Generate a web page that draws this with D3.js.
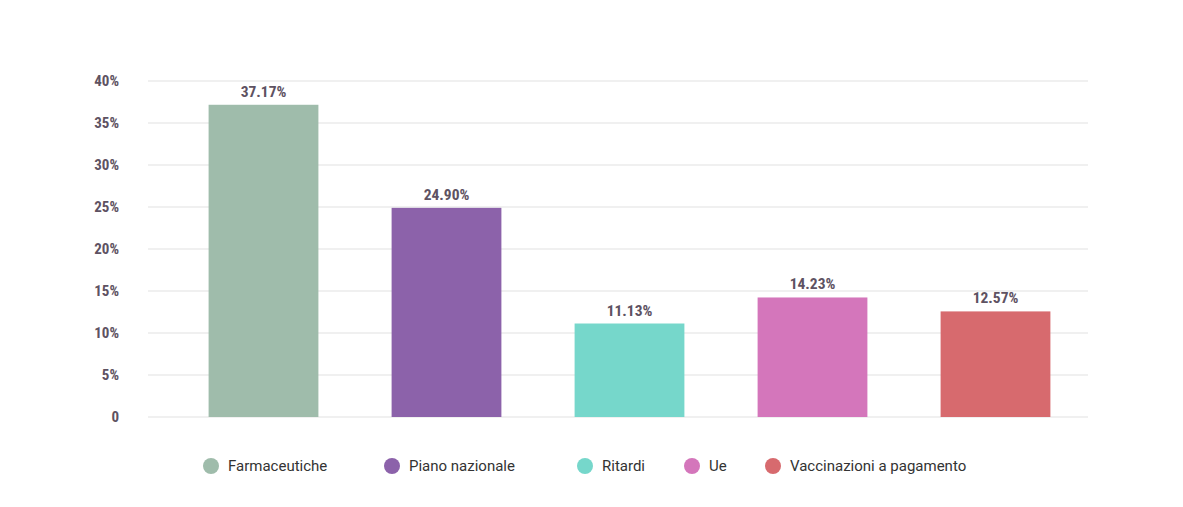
<!DOCTYPE html>
<html>
<head>
<meta charset="utf-8">
<script src="https://cdn.jsdelivr.net/npm/d3@7"></script>
<style>
  html, body { margin: 0; padding: 0; background: #fff; }
  svg { display: block; }
</style>
</head>
<body>
<svg id="chart" width="1183" height="507"></svg>
<script>
const categories = ["Farmaceutiche", "Piano nazionale", "Ritardi", "Ue", "Vaccinazioni a pagamento"];
const values = [37.17, 24.90, 11.13, 14.23, 12.57];
const colors = ["#9fbcab", "#8c62aa", "#76d7cb", "#d476bb", "#d76a6e"];
const yTicks = [0, 5, 10, 15, 20, 25, 30, 35, 40];

const svg = d3.select("#chart");
const condensed = "'Roboto Condensed', 'Liberation Sans Narrow', 'DejaVu Sans Condensed', sans-serif";

const y = d3.scaleLinear().domain([0, 40]).range([417, 81]);
const x = d3.scaleBand().domain(categories).range([172, 1087]).paddingInner(0.4).paddingOuter(0.2);

// gridlines
svg.append("g").selectAll("line").data(yTicks).join("line")
  .attr("x1", 148).attr("x2", 1088)
  .attr("y1", d => y(d)).attr("y2", d => y(d))
  .attr("stroke", "#ebebeb").attr("stroke-width", 1.5);

// y axis labels
const yAxis = d3.axisLeft(y).tickValues(yTicks).tickSize(0).tickPadding(0)
  .tickFormat(d => d === 0 ? "0" : d + "%");
const ga = svg.append("g").attr("transform", "translate(119,0)").call(yAxis);
ga.select(".domain").remove();
ga.selectAll("text")
  .attr("font-family", condensed).attr("font-weight", "bold").attr("font-size", 15)
  .attr("fill", "#5e5262");

// bars
svg.append("g").selectAll("rect").data(categories).join("rect")
  .attr("x", d => x(d)).attr("width", x.bandwidth())
  .attr("y", (d, i) => y(values[i])).attr("height", (d, i) => y(0) - y(values[i]))
  .attr("fill", (d, i) => colors[i]);

// value labels
svg.append("g").selectAll("text").data(categories).join("text")
  .attr("x", d => x(d) + x.bandwidth() / 2)
  .attr("y", (d, i) => y(values[i]) - 8)
  .attr("text-anchor", "middle")
  .attr("font-family", condensed).attr("font-weight", "bold").attr("font-size", 15.5)
  .attr("fill", "#5e5262")
  .text((d, i) => values[i].toFixed(2) + "%");

// legend
const legendX = [211, 392, 585, 692, 773];
const lg = svg.append("g").selectAll("g").data(categories).join("g")
  .attr("transform", (d, i) => `translate(${legendX[i]},466)`);
lg.append("circle").attr("r", 8).attr("fill", (d, i) => colors[i]);
lg.append("text").attr("x", 17).attr("dy", "0.35em")
  .attr("font-family", "Roboto, 'Noto Sans', sans-serif").attr("font-size", 15)
  .attr("fill", "#333").text(d => d);
</script>
</body>
</html>
